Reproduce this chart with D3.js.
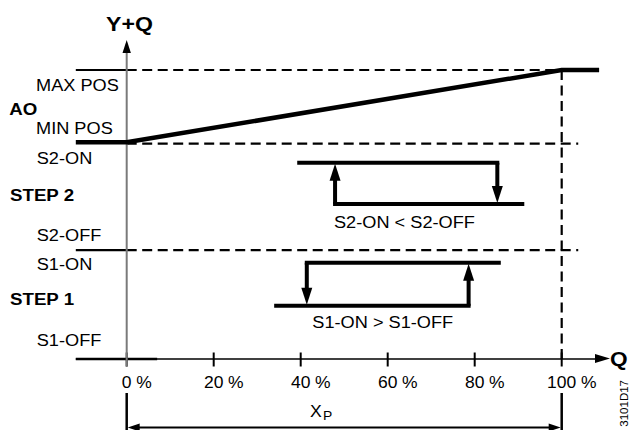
<!DOCTYPE html>
<html><head><meta charset="utf-8">
<script src="https://cdn.jsdelivr.net/npm/d3@7"></script>
<style>html,body{margin:0;padding:0;background:#fff;} svg{display:block;}</style>
</head><body>
<script>
// ---- data ----
const xTicks = [0, 20, 40, 60, 80, 100];
const tickNumbers = ["0", "20", "40", "60", "80", "100"];
const levelNames = ["MAX POS", "MIN POS", "S2-OFF", "S1-OFF"];
const levelValues = [100, 75, 37.7, 0];
const aoX = [-11.7, 0, 100, 108.6];
const aoY = [75, 75, 100, 100];
const s2Levels = [67.9, 53.6];        // top, bottom
const s2TopX = [39.2, 85.2];
const s2BottomX = [47.9, 91.4];
const s2OnX = 47.9, s2OffX = 85.2;
const s1Levels = [33.3, 18.4];        // top, bottom
const s1TopX = [41.4, 86.0];
const s1BottomX = [33.9, 78.6];
const s1OnX = 78.6, s1OffX = 41.4;
const leftLabels = ["MAX POS", "AO", "MIN POS", "S2-ON", "STEP 2", "S2-OFF", "S1-ON", "STEP 1", "S1-OFF"];

const W = 629, H = 430;
const svg = d3.select("body").append("svg").attr("width", W).attr("height", H);
const x = d3.scaleLinear().domain([0, 100]).range([126.7, 561.7]);
const y = d3.scaleLinear().domain([0, 100]).range([359, 70]);
const FONT = "'Liberation Sans', Arial, Helvetica, sans-serif";
const xLeft = x(-11.7);

function txt(s, px, py, opt = {}) {
  const t = svg.append("text")
    .attr("transform", `translate(${px},${py}) scale(${opt.sx || 1.07},1)${opt.rot ? " rotate(" + opt.rot + ")" : ""}`)
    .attr("font-family", FONT)
    .attr("font-size", opt.size || 17)
    .attr("font-weight", opt.bold ? "bold" : "normal")
    .attr("text-anchor", opt.anchor || "start")
    .attr("fill", "#000")
    .text(s);
  return t;
}
function tri(tipX, tipY, dir, len, half, color = "#000") {
  let pts;
  if (dir === "up") pts = [[tipX, tipY], [tipX - half, tipY + len], [tipX + half, tipY + len]];
  else if (dir === "down") pts = [[tipX, tipY], [tipX - half, tipY - len], [tipX + half, tipY - len]];
  else if (dir === "right") pts = [[tipX, tipY], [tipX - len, tipY - half], [tipX - len, tipY + half]];
  else pts = [[tipX, tipY], [tipX + len, tipY - half], [tipX + len, tipY + half]];
  svg.append("path").attr("d", "M" + pts.map(p => p.join(",")).join("L") + "Z").attr("fill", color);
}
function line(x1, y1, x2, y2, w, dash, color = "#000") {
  const l = svg.append("line").attr("x1", x1).attr("y1", y1).attr("x2", x2).attr("y2", y2)
    .attr("stroke", color).attr("stroke-width", w);
  if (dash) l.attr("stroke-dasharray", dash);
  return l;
}

// dashed guide lines
line(x(0), y(levelValues[0]), x(103.5), y(levelValues[0]), 2.2, "10,5.5");
line(x(0), y(levelValues[1]) + 1.3, x(103.8), y(levelValues[1]) + 1.3, 2.2, "10,5.5");
line(x(0), y(levelValues[2]), x(103.8), y(levelValues[2]), 2.2, "10,5.5");
line(x(100), y(levelValues[0]), x(100), y(0), 2.2, "10,5.5");
// solid left stubs
line(xLeft, y(levelValues[0]), x(0), y(levelValues[0]), 2.2);
line(xLeft, y(levelValues[2]), x(0), y(levelValues[2]), 2.2);
line(xLeft, y(0), x(7), y(0), 2.5);

// x axis
line(xLeft, y(0), 596, y(0), 1.5);
tri(610, y(0) - 0.5, "right", 15, 4.5);
xTicks.forEach((v, i) => {
  line(x(v), y(0) - 6.5, x(v), y(0) + 7.5, 2);
  const num = txt(tickNumbers[i], x(v), 387.5, { anchor: "middle", size: 16.5, sx: 1.06 });
  const w = num.node().getComputedTextLength() * 1.06;
  txt("%", x(v) + w / 2 + 4.6, 387.5, { size: 16.5, sx: 1.06 });
});
txt("Q", 610, 366, { bold: true, size: 21, sx: 1.08 });

// y axis (grey) with arrow
line(x(0), y(0) + 7.5, x(0), 52, 2, null, "#7a7a7a");
tri(x(0), 40, "up", 13, 4.2);
txt("Y+Q", 106, 31, { bold: true, size: 21, sx: 1.1 });

// AO curve
const aoLine = d3.line().x(d => x(d[0])).y(d => y(d[1]));
svg.append("path").datum(aoX.map((v, i) => [v, aoY[i]]))
  .attr("d", aoLine).attr("fill", "none").attr("stroke", "#000").attr("stroke-width", 4.5)
  .attr("stroke-linejoin", "miter");

// Step 2 hysteresis
line(x(s2TopX[0]), y(s2Levels[0]), x(s2TopX[1]) + 2, y(s2Levels[0]), 4);
line(x(s2BottomX[0]) - 2, y(s2Levels[1]), x(s2BottomX[1]), y(s2Levels[1]), 4);
line(x(s2OnX), y(s2Levels[1]), x(s2OnX), y(s2Levels[0]) + 14, 4);
tri(x(s2OnX), y(s2Levels[0]) + 1, "up", 17, 5.5);
line(x(s2OffX), y(s2Levels[0]), x(s2OffX), y(s2Levels[1]) - 14, 4);
tri(x(s2OffX), y(s2Levels[1]) - 1, "down", 17, 5.5);
txt("S2-ON < S2-OFF", 334, 228);

// Step 1 hysteresis
line(x(s1TopX[0]) - 2, y(s1Levels[0]), x(s1TopX[1]), y(s1Levels[0]), 4);
line(x(s1BottomX[0]), y(s1Levels[1]), x(s1BottomX[1]) + 2, y(s1Levels[1]), 4);
line(x(s1OffX), y(s1Levels[0]), x(s1OffX), y(s1Levels[1]) - 14, 4);
tri(x(s1OffX), y(s1Levels[1]) - 1, "down", 17, 5.5);
line(x(s1OnX), y(s1Levels[1]), x(s1OnX), y(s1Levels[0]) + 14, 4);
tri(x(s1OnX), y(s1Levels[0]) + 1, "up", 17, 5.5);
txt("S1-ON > S1-OFF", 312.3, 328);

// left labels
const labelPos = [
  [36, y(levelValues[0]) + 20.7, false],
  [9.3, 115, true],
  [36, y(levelValues[1]) - 8.7, false],
  [36.7, y(levelValues[1]) + 22, false],
  [10, 201, true],
  [36.7, y(levelValues[2]) - 9.3, false],
  [36.7, y(levelValues[2]) + 20, false],
  [10, 305, true],
  [36.7, y(0) - 13.3, false]
];
leftLabels.forEach((s, i) => {
  const p = labelPos[i];
  txt(s, p[0], p[1], p[2] ? { bold: true, sx: 1.1 } : {});
});

// Xp span
line(x(0), 393, x(0), 430, 2.5);
line(x(100), 393, x(100), 430, 2.5);
line(x(0) + 10, 427.5, x(100) - 10, 427.5, 2);
tri(x(0) + 1, 427.5, "left", 12, 4);
tri(x(100) - 1, 427.5, "right", 12, 4);
txt("X", 310, 417, { size: 16.5 });
txt("P", 323, 420, { size: 13 });

// drawing code
txt("3101D17", 627.5, 380, { size: 11.5, sx: 1, rot: -90, anchor: "end" });
</script>
</body></html>
